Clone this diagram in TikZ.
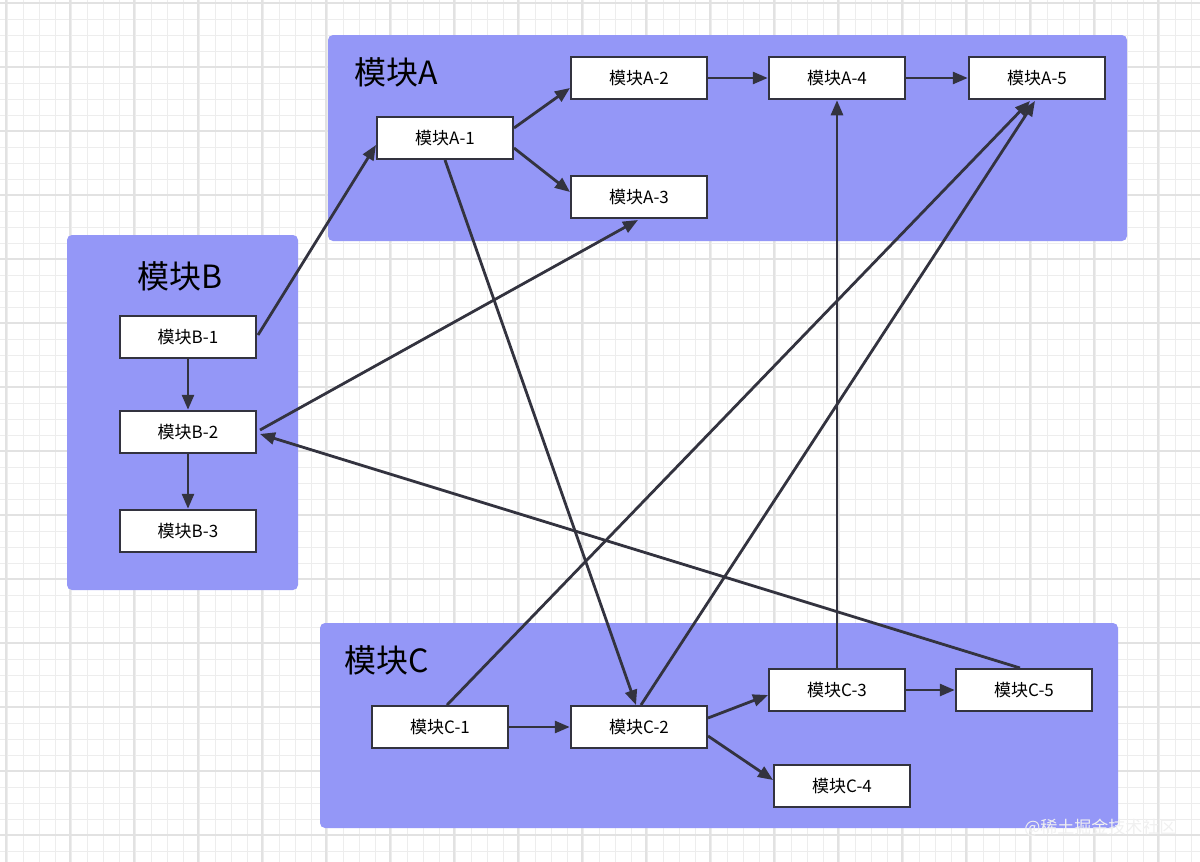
\documentclass[tikz,border=0pt]{standalone}
\usepackage{fontspec}
\setmainfont{Noto Sans CJK SC}
\usetikzlibrary{arrows.meta}
\definecolor{grp}{HTML}{9497F7}
\definecolor{ln}{HTML}{33333F}
\definecolor{gmin}{HTML}{EDEDED}
\definecolor{gmaj}{HTML}{E2E2E2}
\begin{document}
\begin{tikzpicture}[x=1pt,y=-1pt,
  box/.style={draw=ln,line width=2.5pt,fill=white,minimum width=136pt,minimum height=42pt,inner sep=0pt,font=\fontsize{17}{20}\selectfont},
  grpbox/.style={fill=grp,rounded corners=5pt},
  glab/.style={font=\fontsize{32}{36}\selectfont,anchor=center},
  ar/.style={draw=ln,line width=2.8pt,-{Triangle[length=15pt,width=12pt]}}]
\useasboundingbox (0,0) rectangle (1200,862);
\fill[white] (0,0) rectangle (1200,862);
\foreach \x in {7,23,...,1200} \draw[gmin,line width=1pt] (\x,0) -- (\x,862);
\foreach \y in {3,19,...,862} \draw[gmin,line width=1pt] (0,\y) -- (1200,\y);
\foreach \x in {6,70,...,1200} \draw[gmaj,line width=1.5pt] (\x,0) -- (\x,862);
\foreach \y in {3,67,...,862} \draw[gmaj,line width=1.5pt] (0,\y) -- (1200,\y);
\fill[grpbox] (328,35) rectangle (1127,241);
\fill[grpbox] (67,235) rectangle (298,590);
\fill[grpbox] (320,623) rectangle (1118,828);
\node[glab] (la) at (396,72) {模块A};
\node[glab] (lb) at (180,276) {模块B};
\node[glab] (lc) at (387,660) {模块C};
\node[box] (a1) at (445,138) {模块A-1};
\node[box] (a2) at (639,78) {模块A-2};
\node[box] (a3) at (639,197) {模块A-3};
\node[box] (a4) at (837,78) {模块A-4};
\node[box] (a5) at (1037,78) {模块A-5};
\node[box] (b1) at (188,337) {模块B-1};
\node[box] (b2) at (188,432) {模块B-2};
\node[box] (b3) at (188,531) {模块B-3};
\node[box] (c1) at (440,727) {模块C-1};
\node[box] (c2) at (639,727) {模块C-2};
\node[box] (c3) at (837,690) {模块C-3};
\node[box] (c4) at (842,786) {模块C-4};
\node[box] (c5) at (1024,690) {模块C-5};
\coordinate (b1s) at (258,335);
\coordinate (a1t) at (376,145);
\draw[ar] (b1s) -- (a1t);
\draw[ar] (b1) -- (b2);
\draw[ar] (b2) -- (b3);
\coordinate (c5s) at (1020,668);
\coordinate (b2t) at (260,434);
\draw[ar] (c5s) -- (b2t);
\coordinate (b2s) at (260,430);
\coordinate (a3t) at (638,220);
\draw[ar] (b2s) -- (a3t);
\coordinate (a1s) at (514,128);
\coordinate (a2t) at (570,88);
\draw[ar] (a1s) -- (a2t);
\coordinate (a1s2) at (514,148);
\coordinate (a3t2) at (570,192);
\draw[ar] (a1s2) -- (a3t2);
\coordinate (a1b) at (445,160);
\coordinate (c2t) at (636,705);
\draw[ar] (a1b) -- (c2t);
\draw[ar] (a2) -- (a4);
\draw[ar] (a4) -- (a5);
\coordinate (c1t) at (447,705);
\coordinate (a5b) at (1030,101);
\draw[ar] (c1t) -- (a5b);
\coordinate (c2t2) at (641,705);
\coordinate (a5b2) at (1035,101);
\draw[ar] (c2t2) -- (a5b2);
\draw[ar] (c3) -- (a4);
\draw[ar] (c1) -- (c2);
\coordinate (c2r1) at (708,718);
\coordinate (c3l) at (768,695);
\draw[ar] (c2r1) -- (c3l);
\coordinate (c2r2) at (708,736);
\coordinate (c4l) at (773,780);
\draw[ar] (c2r2) -- (c4l);
\draw[ar] (c3) -- (c5);
\node[font=\fontsize{17}{20}\selectfont,text=white!88!gray,anchor=east] (wm) at (1180,828) {@稀土掘金技术社区};
\end{tikzpicture}
\end{document}
